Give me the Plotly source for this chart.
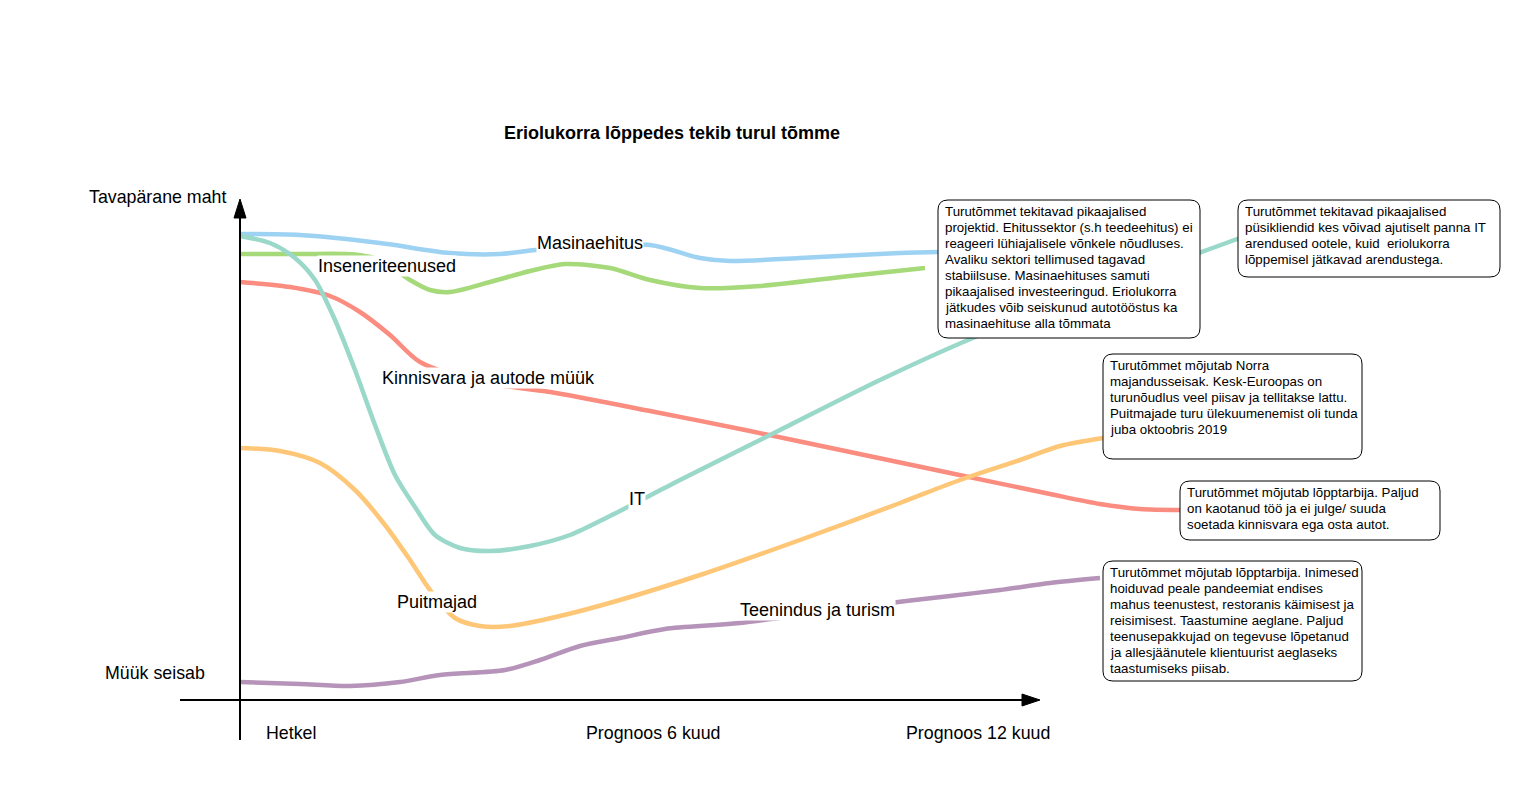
import plotly.graph_objects as go

# Schematic coordinates: x = position along timeline (0 = "Hetkel" axis), y = level above the baseline
FONT = "Liberation Sans, Arial, sans-serif"

title_text = "Eriolukorra lõppedes tekib turul tõmme"
y_axis_top_label = "Tavapärane maht"
y_axis_bottom_label = "Müük seisab"
x_tick_labels = ["Hetkel", "Prognoos 6 kuud", "Prognoos 12 kuud"]
x_tick_pos = [51, 413, 738]

masin_x = [0, 60, 140, 210, 260, 305, 410, 460, 490, 560, 660, 700]
masin_y = [466, 465, 457, 447, 446, 451, 455, 442, 439, 442, 447, 448]

insen_x = [0, 60, 115, 140, 170, 190, 210, 250, 290, 325, 370, 410, 460, 520, 610, 685]
insen_y = [446, 446, 445.5, 440, 420, 410, 408, 418, 429, 436, 432, 420, 412, 414, 424, 432]

kinn_x = [0, 50, 90, 120, 150, 180, 240, 310, 410, 510, 610, 710, 810, 860, 900, 940]
kinn_y = [418, 413, 404, 388, 365, 338, 318, 308, 289, 269, 248, 227, 206, 196, 191, 190]

it_x = [0, 30, 55, 75, 95, 115, 135, 155, 175, 195, 220, 250, 290, 330, 370, 440, 540, 640, 740, 1000]
it_y = [464, 457, 442, 420, 380, 330, 275, 225, 193, 165, 152, 149, 154, 165, 184, 220, 270, 320, 365, 462]

puit_x = [0, 40, 80, 115, 145, 170, 190, 215, 240, 270, 320, 380, 460, 560, 660, 720, 780, 820, 863]
puit_y = [252, 249, 237, 210, 175, 140, 110, 82, 74, 74, 84, 100, 125, 160, 197, 220, 240, 254, 262]

teen_x = [0, 60, 110, 160, 200, 265, 300, 340, 380, 425, 500, 650, 710, 760, 810, 860]
teen_y = [18, 16, 14, 18, 25, 30, 40, 54, 62, 71, 77, 97, 104, 110, 117, 122]

series = [
    ("Masinaehitus", masin_x, masin_y, "#9dd2f3", (350, 457)),
    ("Inseneriteenused", insen_x, insen_y, "#a5d97a", (147, 434.5)),
    ("Kinnisvara ja autode müük", kinn_x, kinn_y, "#fa8c80", (248, 322)),
    ("IT", it_x, it_y, "#9ad8ca", (397, 201)),
    ("Puitmajad", puit_x, puit_y, "#fec677", (197, 98)),
    ("Teenindus ja turism", teen_x, teen_y, "#b693b9", (577, 90)),
]

notes = [
    ((698, 960, 500, 362),
     ["Turutõmmet tekitavad pikaajalised", "projektid. Ehitussektor (s.h teedeehitus) ei",
      "reageeri lühiajalisele võnkele nõudluses.", "Avaliku sektori tellimused tagavad",
      "stabiilsuse. Masinaehituses samuti", "pikaajalised investeeringud. Eriolukorra",
      "jätkudes võib seiskunud autotööstus ka", "masinaehituse alla tõmmata"]),
    ((998, 1260, 500, 423),
     ["Turutõmmet tekitavad pikaajalised", "püsikliendid kes võivad ajutiselt panna IT",
      "arendused ootele, kuid  eriolukorra", "lõppemisel jätkavad arendustega."]),
    ((863, 1122, 346, 241),
     ["Turutõmmet mõjutab Norra", "majandusseisak. Kesk-Euroopas on",
      "turunõudlus veel piisav ja tellitakse lattu.", "Puitmajade turu ülekuumenemist oli tunda",
      "juba oktoobris 2019"]),
    ((940, 1200, 219, 160),
     ["Turutõmmet mõjutab lõpptarbija. Paljud", "on kaotanud töö ja ei julge/ suuda",
      "soetada kinnisvara ega osta autot."]),
    ((863, 1122, 139, 19),
     ["Turutõmmet mõjutab lõpptarbija. Inimesed", "hoiduvad peale pandeemiat endises",
      "mahus teenustest, restoranis käimisest ja", "reisimisest. Taastumine aeglane. Paljud",
      "teenusepakkujad on tegevuse lõpetanud", "ja allesjäänutele klientuurist aeglaseks",
      "taastumiseks piisab."]),
]

fig = go.Figure()
annotations = []
shapes = []

for name, xs, ys, color, (lx, ly) in series:
    fig.add_trace(go.Scatter(x=xs, y=ys, mode="lines", name=name,
                             line=dict(color=color, width=4.5, shape="spline", smoothing=0.8),
                             hoverinfo="skip", showlegend=False))
    annotations.append(dict(x=lx, y=ly, text=name, showarrow=False, xref="x", yref="y",
                            font=dict(family=FONT, size=18, color="#000"),
                            bgcolor="white", borderpad=0))

def rounded_rect(x0, x1, ytop, ybot, r=10):
    return (f"M {x0+r},{ytop} L {x1-r},{ytop} Q {x1},{ytop} {x1},{ytop-r} "
            f"L {x1},{ybot+r} Q {x1},{ybot} {x1-r},{ybot} L {x0+r},{ybot} "
            f"Q {x0},{ybot} {x0},{ybot+r} L {x0},{ytop-r} Q {x0},{ytop} {x0+r},{ytop} Z")

for (x0, x1, ytop, ybot), lines in notes:
    shapes.append(dict(type="path", path=rounded_rect(x0, x1, ytop, ybot), xref="x", yref="y",
                       line=dict(color="#000", width=1), fillcolor="white", layer="above"))
    for i, ln in enumerate(lines):
        annotations.append(dict(x=x0 + 5, y=ytop - 11 - 16 * i, text=ln, showarrow=False,
                                xref="x", yref="y", xanchor="left", yanchor="middle", align="left",
                                font=dict(family=FONT, size=13.3, color="#000")))

# axes
shapes.append(dict(type="line", x0=0, x1=0, y0=-40, y1=485, xref="x", yref="y",
                   line=dict(color="#000", width=2), layer="above"))
shapes.append(dict(type="path", path="M -6,482 L 6,482 L 0,501 Z", xref="x", yref="y",
                   fillcolor="#000", line=dict(color="#000", width=1), layer="above"))
shapes.append(dict(type="line", x0=-60, x1=785, y0=0, y1=0, xref="x", yref="y",
                   line=dict(color="#000", width=2), layer="above"))
shapes.append(dict(type="path", path="M 782,6 L 782,-6 L 800,0 Z", xref="x", yref="y",
                   fillcolor="#000", line=dict(color="#000", width=1), layer="above"))

annotations.append(dict(x=432, y=567, text="<b>" + title_text + "</b>", showarrow=False,
                        font=dict(family=FONT, size=18, color="#000")))
annotations.append(dict(x=-83, y=503, text=y_axis_top_label, showarrow=False,
                        font=dict(family=FONT, size=17.8, color="#000")))
annotations.append(dict(x=-85, y=27, text=y_axis_bottom_label, showarrow=False,
                        font=dict(family=FONT, size=17.8, color="#000")))
for t, p in zip(x_tick_labels, x_tick_pos):
    annotations.append(dict(x=p, y=-33, text=t, showarrow=False,
                            font=dict(family=FONT, size=17.8, color="#000")))

fig.update_layout(
    width=1540, height=800,
    margin=dict(l=0, r=0, t=0, b=0),
    paper_bgcolor="white", plot_bgcolor="white",
    xaxis=dict(range=[-232, 1308], visible=False, fixedrange=True),
    yaxis=dict(range=[-108, 692], visible=False, fixedrange=True),
    shapes=shapes, annotations=annotations,
    font=dict(family=FONT),
)
fig.write_html("out.html")
